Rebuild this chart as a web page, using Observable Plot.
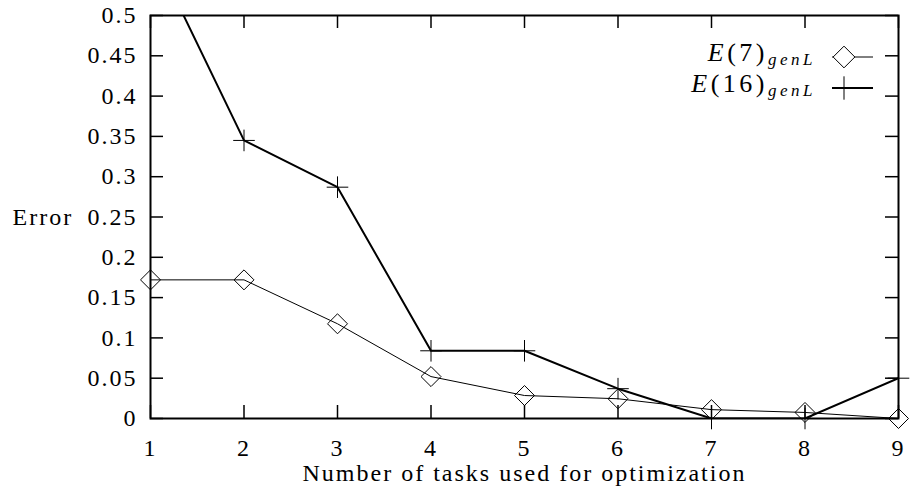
<!DOCTYPE html>
<html><head><meta charset="utf-8">
<script src="https://cdn.jsdelivr.net/npm/d3@7"></script>
<script src="https://cdn.jsdelivr.net/npm/@observablehq/plot@0.6"></script>
<style>body{margin:0;background:#fff}</style>
</head><body><div id="chart"></div>
<script>
const tasks = [1, 2, 3, 4, 5, 6, 7, 8, 9];
const e7 = [0.172, 0.172, 0.1175, 0.052, 0.0285, 0.0245, 0.011, 0.0075, 0.0];
const e16 = [0.585, 0.345, 0.287, 0.084, 0.084, 0.037, 0.0, 0.0, 0.05];
const xTicks = [1, 2, 3, 4, 5, 6, 7, 8, 9];
const yTicks = [0, 0.05, 0.1, 0.15, 0.2, 0.25, 0.3, 0.35, 0.4, 0.45, 0.5];
const seriesLabels = ["(7)", "(16)"];
const seriesBase = "E";
const seriesSub = "genL";
const xLabel = "Number of tasks used for optimization";
const yLabel = "Error";

const d7 = tasks.map((t, i) => ({t, v: e7[i]}));
const d16 = tasks.map((t, i) => ({t, v: e16[i]}));
const FONT = "'Liberation Serif', 'Times New Roman', serif";

const chart = Plot.plot({
  width: 910, height: 492,
  marginLeft: 150, marginRight: 12, marginTop: 15, marginBottom: 74,
  style: {fontFamily: FONT, fontSize: "24px", letterSpacing: "2px", background: "white", color: "black"},
  x: {domain: [1, 9]},
  y: {domain: [0, 0.5]},
  marks: [
    Plot.axisX(xTicks, {tickSize: 0, tickPadding: 20, tickFormat: d => String(d), label: null}),
    Plot.axisY(yTicks, {tickSize: 0, tickPadding: 13, tickFormat: d => String(d), label: null}),
    Plot.tickY(yTicks, {y: d => d, insetRight: 735, strokeWidth: 1.5}),
    Plot.tickY(yTicks, {y: d => d, insetLeft: 735, strokeWidth: 1.5}),
    Plot.tickX(xTicks, {x: d => d, insetBottom: 390, strokeWidth: 1.5}),
    Plot.tickX(xTicks, {x: d => d, insetTop: 390, strokeWidth: 1.5}),
    Plot.line(d7, {x: "t", y: "v", stroke: "black", strokeWidth: 1}),
    Plot.dot(d7, {x: "t", y: "v", symbol: "diamond2", r: 9, stroke: "black", fill: "none", strokeWidth: 1}),
    Plot.line(d16, {x: "t", y: "v", stroke: "black", strokeWidth: 2, clip: true}),
    Plot.dot(d16, {x: "t", y: "v", filter: d => d.v <= 0.5, symbol: "plus", r: 7, stroke: "black", strokeWidth: 1}),
    Plot.frame({strokeWidth: 2}),
    Plot.text([yLabel], {frameAnchor: "left", dx: -138, textAnchor: "start"}),
    Plot.text([xLabel], {frameAnchor: "bottom", dy: 62, lineAnchor: "bottom"})
  ]
});

// legend
const svg = d3.select(chart);
const lg = svg.append("g").attr("font-family", FONT).attr("fill", "black");
const rows = [
  {label: seriesLabels[0], y: 61, ly: 57, symbol: d3.symbolDiamond2, size: 300, lw: 1},
  {label: seriesLabels[1], y: 92, ly: 88, symbol: d3.symbolPlus, size: 180, lw: 2}
];
rows.forEach(r => {
  const t = lg.append("text").attr("x", 816).attr("y", r.y).attr("text-anchor", "end")
    .attr("font-size", 26).attr("letter-spacing", "3.5px");
  t.append("tspan").attr("font-style", "italic").text(seriesBase);
  t.append("tspan").text(r.label);
  t.append("tspan").attr("font-style", "italic").attr("font-size", 17).attr("dy", 4).text(seriesSub);
  lg.append("line").attr("x1", 832).attr("x2", 873).attr("y1", r.ly).attr("y2", r.ly)
    .attr("stroke", "black").attr("stroke-width", r.lw);
  lg.append("path").attr("transform", `translate(844,${r.ly})`)
    .attr("d", d3.symbol(r.symbol, r.size)()).attr("fill", r.symbol === d3.symbolDiamond2 ? "white" : "none")
    .attr("stroke", "black").attr("stroke-width", 1);
});

document.getElementById("chart").appendChild(chart);
</script>
</body></html>
